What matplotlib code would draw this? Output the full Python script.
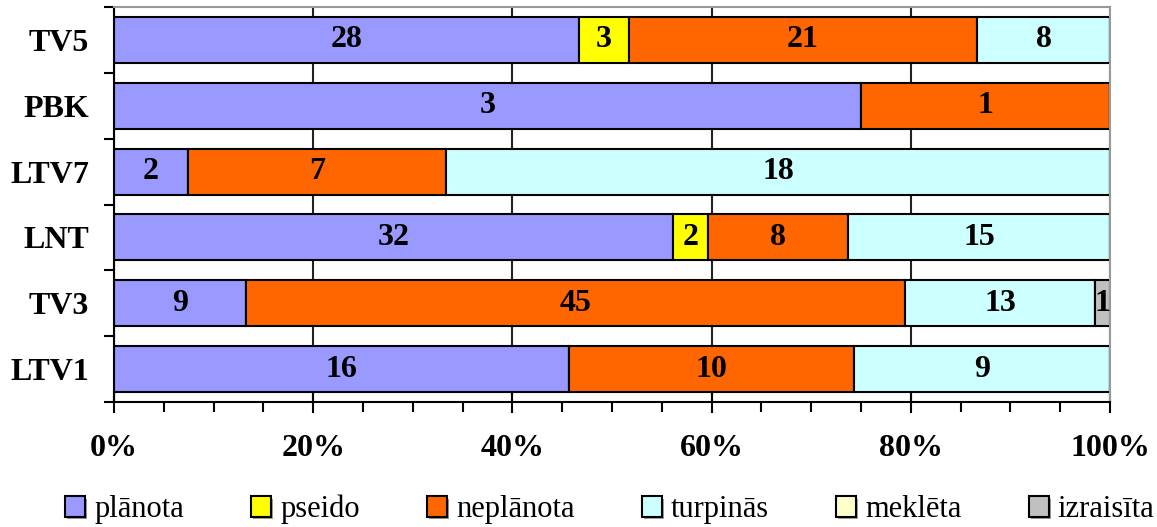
import matplotlib

matplotlib.use("Agg")
import matplotlib.pyplot as plt
import matplotlib.patheffects as pe
import numpy as np
from matplotlib.ticker import MultipleLocator, PercentFormatter

plt.rcParams["font.family"] = ["Liberation Serif", "DejaVu Serif"]

# Kanāli (no augšas uz leju) un sērijas
CHANNELS = ["TV5", "PBK", "LTV7", "LNT", "TV3", "LTV1"]
SERIES = ["plānota", "pseido", "neplānota", "turpinās", "meklēta", "izraisīta"]
COLORS = ["#9999FF", "#FFFF00", "#FF6600", "#CCFFFF", "#FFFFCC", "#C0C0C0"]

planota = [28, 3, 2, 32, 9, 16]
pseido = [3, 0, 0, 2, 0, 0]
neplanota = [21, 1, 7, 8, 45, 10]
turpinas = [8, 0, 18, 15, 13, 9]
mekleta = [0, 0, 0, 0, 0, 0]
izraisita = [0, 0, 0, 0, 1, 0]

counts = np.array([planota, pseido, neplanota, turpinas, mekleta, izraisita], dtype=float)
share = counts / counts.sum(axis=0) * 100

fig = plt.figure(figsize=(11.57, 5.27), dpi=100)
ax = fig.add_axes([0.0985, 0.2372, 0.8609, 0.7495])
ax.set_axisbelow(True)
ax.grid(True, axis="x", which="major", color="#222222", linewidth=1.5)

y = np.arange(len(CHANNELS))
left = np.zeros(len(CHANNELS))
for k, (name, col) in enumerate(zip(SERIES, COLORS)):
    ax.barh(y, share[k], left=left, height=0.7, color=col, edgecolor="black",
            linewidth=1.5, label=name)
    for i in range(len(CHANNELS)):
        if counts[k, i] > 0:
            ax.text(left[i] + share[k, i] / 2, y[i], f"{int(counts[k, i])}",
                    ha="center", va="center", fontsize=23, fontweight="bold")
    left += share[k]

ax.set_xlim(0, 100)
ax.set_ylim(len(CHANNELS) - 0.5, -0.5)
ax.set_yticks(y)
ax.set_yticklabels(CHANNELS, fontsize=23, fontweight="bold")
ax.set_yticks(np.arange(-0.5, len(CHANNELS), 1), minor=True)
ax.tick_params(axis="y", which="major", length=0, pad=18)
ax.tick_params(axis="y", which="minor", length=7, width=1.5, direction="out")

ax.xaxis.set_major_locator(MultipleLocator(20))
ax.xaxis.set_minor_locator(MultipleLocator(5))
ax.xaxis.set_major_formatter(PercentFormatter(decimals=0))
ax.tick_params(axis="x", which="major", length=16, width=1.5, direction="inout", pad=15)
ax.tick_params(axis="x", which="minor", length=7, width=1.5, direction="out")
for lab in ax.get_xticklabels():
    lab.set_fontsize(23)
    lab.set_fontweight("bold")

ax.spines["left"].set_linewidth(1.5)
ax.spines["bottom"].set_linewidth(1.5)
ax.spines["top"].set_color("#999999")
ax.spines["right"].set_color("#999999")
ax.spines["top"].set_linewidth(1.5)
ax.spines["right"].set_linewidth(1.5)

leg = fig.legend(loc="center", ncol=6, bbox_to_anchor=(0.527, 0.033), frameon=False,
                 fontsize=22, handlelength=0.65, handleheight=0.65, handletextpad=0.3,
                 columnspacing=2.2)
for h in leg.legend_handles:
    h.set_path_effects([pe.SimplePatchShadow(offset=(1.5, -1.5), alpha=0.5), pe.Normal()])

fig.savefig("out.png", dpi=100)
